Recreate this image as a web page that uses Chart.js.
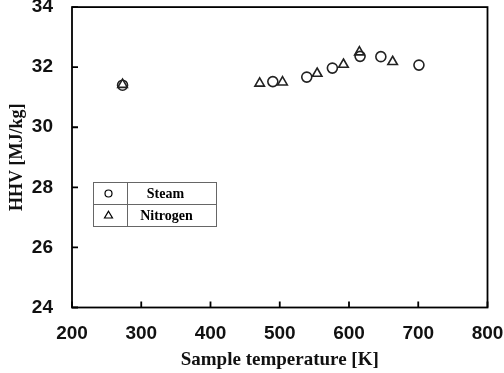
<!DOCTYPE html>
<html>
<head>
<meta charset="utf-8">
<script src="https://cdn.jsdelivr.net/npm/chart.js@4/dist/chart.umd.min.js"></script>
<style>
  html, body { margin: 0; padding: 0; background: #fff; }
  #wrap { width: 504px; height: 373px; }
</style>
</head>
<body>
<div id="wrap"><canvas id="chart" width="504" height="373"></canvas></div>
<script>
// data
const seriesNames = ['Steam', 'Nitrogen'];
const steamTemp = [273, 490, 539, 576, 616, 646, 701];
const steamHHV = [31.40, 31.52, 31.67, 31.97, 32.36, 32.35, 32.07];
const nitrogenTemp = [273, 471, 504, 554, 592, 615, 663];
const nitrogenHHV = [31.42, 31.46, 31.50, 31.79, 32.09, 32.50, 32.18];
const xTicks = [200, 300, 400, 500, 600, 700, 800];
const yTicks = [24, 26, 28, 30, 32, 34];

function toPoints(xs, ys) {
    return xs.map((x, i) => ({ x: x, y: ys[i] }));
}

// drop the extra room Chart.js keeps for edge labels
function noEdgePadding(s) {
    s.paddingTop = 0;
    s.paddingBottom = 0;
    s.paddingLeft = 0;
    s.paddingRight = 0;
}

// box round the plot + inward ticks
const frame = {
    id: 'frame',
    afterDraw(chart) {
        const ctx = chart.ctx;
        const a = chart.chartArea;
        const xs = chart.scales.x, ys = chart.scales.y;
        ctx.save();
        ctx.strokeStyle = '#000';
        ctx.lineWidth = 1.8;
        ctx.strokeRect(a.left, a.top, a.right - a.left, a.bottom - a.top);
        ctx.beginPath();
        xTicks.forEach(v => {
            const px = xs.getPixelForValue(v);
            ctx.moveTo(px, a.bottom);
            ctx.lineTo(px, a.bottom - 6);
        });
        yTicks.forEach(v => {
            const py = ys.getPixelForValue(v);
            ctx.moveTo(a.left, py);
            ctx.lineTo(a.left + 6, py);
        });
        ctx.stroke();
        ctx.restore();
    }
};

// table-style legend
const tableLegend = {
    id: 'tableLegend',
    afterDraw(chart) {
        const ctx = chart.ctx;
        const left = 93.5, top = 182.5, w = 123, rowH = 22, split = 34;
        ctx.save();
        ctx.strokeStyle = '#666';
        ctx.lineWidth = 1;
        ctx.strokeRect(left, top, w, rowH * 2);
        ctx.beginPath();
        ctx.moveTo(left, top + rowH);
        ctx.lineTo(left + w, top + rowH);
        ctx.moveTo(left + split, top);
        ctx.lineTo(left + split, top + rowH * 2);
        ctx.stroke();

        ctx.strokeStyle = '#000';
        ctx.lineWidth = 1.2;
        const mx = left + 15;
        // circle
        ctx.beginPath();
        ctx.arc(mx, top + 11, 3.5, 0, Math.PI * 2);
        ctx.stroke();
        // triangle
        const ty = top + rowH + 11, r = 4.2;
        ctx.beginPath();
        ctx.moveTo(mx, ty - r);
        ctx.lineTo(mx + r * 0.95, ty + r * 0.6);
        ctx.lineTo(mx - r * 0.95, ty + r * 0.6);
        ctx.closePath();
        ctx.stroke();

        ctx.fillStyle = '#000';
        ctx.font = 'bold 14px "Liberation Serif", "DejaVu Serif", serif';
        ctx.textAlign = 'center';
        ctx.textBaseline = 'middle';
        ctx.fillText(seriesNames[0], left + split + 38, top + 12);
        ctx.fillText(seriesNames[1], left + split + 39, top + rowH + 12);
        ctx.restore();
    }
};

const tickFont = { family: '"Liberation Sans", Arial, sans-serif', size: 19, weight: 'bold' };
const titleFont = { family: '"Liberation Serif", "Times New Roman", serif', size: 18, weight: 'bold' };

new Chart(document.getElementById('chart').getContext('2d'), {
    type: 'scatter',
    data: {
        datasets: [
            {
                label: seriesNames[0],
                data: toPoints(steamTemp, steamHHV),
                pointStyle: 'circle',
                pointRadius: 5,
                borderColor: '#222',
                backgroundColor: 'rgba(0,0,0,0)',
                borderWidth: 1.6
            },
            {
                label: seriesNames[1],
                data: toPoints(nitrogenTemp, nitrogenHHV),
                pointStyle: 'triangle',
                pointRadius: 5.5,
                borderColor: '#222',
                backgroundColor: 'rgba(0,0,0,0)',
                borderWidth: 1.6
            }
        ]
    },
    options: {
        responsive: false,
        animation: false,
        layout: { padding: { top: 7, right: 16.5, left: 0, bottom: 0 } },
        plugins: {
            legend: { display: false },
            tooltip: { enabled: false }
        },
        scales: {
            x: {
                type: 'linear',
                min: 200,
                max: 800,
                afterBuildTicks: s => { s.ticks = xTicks.map(v => ({ value: v })); },
                afterFit: s => { s.height = 65.5; noEdgePadding(s); },
                grid: { display: false, drawTicks: false },
                border: { display: false },
                ticks: { color: '#111', font: tickFont, padding: 15, maxRotation: 0 },
                title: {
                    display: true,
                    text: 'Sample temperature [K]',
                    color: '#111',
                    font: { ...titleFont, size: 19 },
                    padding: { top: 0, bottom: 2 }
                }
            },
            y: {
                min: 24,
                max: 34,
                afterBuildTicks: s => { s.ticks = yTicks.map(v => ({ value: v })); },
                afterFit: s => { s.width = 72; noEdgePadding(s); },
                grid: { display: false, drawTicks: false },
                border: { display: false },
                ticks: { color: '#111', font: tickFont, padding: 19 },
                title: {
                    display: true,
                    text: 'HHV [MJ/kg]',
                    color: '#111',
                    font: titleFont,
                    padding: { top: 7, bottom: 0 }
                }
            }
        }
    },
    plugins: [frame, tableLegend]
});
</script>
</body>
</html>
